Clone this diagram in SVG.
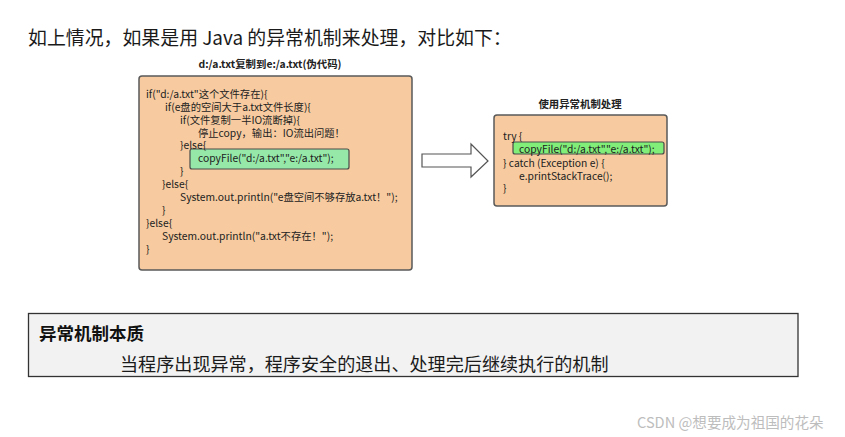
<svg xmlns="http://www.w3.org/2000/svg" width="845" height="437" viewBox="0 0 845 437">
<style>
text{font-family:"Noto Sans CJK SC","Liberation Sans",sans-serif;dominant-baseline:central}
.code{font-size:10.3px;fill:#222}
.cap{font-size:10.4px;font-weight:bold;fill:#222;text-anchor:middle}
.box{fill:#f7cb9f;stroke:#5a5a5a;stroke-width:1.5}
</style>
<rect width="845" height="437" fill="#fff"/>
<text x="28" y="36" style="font-size:18.9px;fill:#1a1a1a">如上情况，如果是用 Java 的异常机制来处理，对比如下：</text>

<g id="left">
<text class="cap" x="270" y="63">d:/a.txt复制到e:/a.txt(伪代码)</text>
<rect class="box" x="139" y="76" width="273" height="194" rx="3"/>
<rect x="190" y="149" width="159" height="20" rx="2" fill="#95e8a8" stroke="#4a4a4a" stroke-width="1.2"/>
<text class="code" x="146" y="93.3">if("d:/a.txt"这个文件存在){</text>
<text class="code" x="165" y="106.2">if(e盘的空间大于a.txt文件长度){</text>
<text class="code" x="180" y="119.1">if(文件复制一半IO流断掉){</text>
<text class="code" x="198" y="132">停止copy，输出：IO流出问题！</text>
<text class="code" x="180" y="144.9">}else{</text>
<text class="code" x="198" y="157.8">copyFile("d:/a.txt","e:/a.txt");</text>
<text class="code" x="180" y="170.7">}</text>
<text class="code" x="162" y="183.6">}else{</text>
<text class="code" x="180" y="196.5">System.out.println("e盘空间不够存放a.txt！");</text>
<text class="code" x="162" y="209.4">}</text>
<text class="code" x="146" y="222.3">}else{</text>
<text class="code" x="162" y="235.2">System.out.println("a.txt不存在！");</text>
<text class="code" x="146" y="248.1">}</text>
</g>

<g id="connectors">
<polygon points="422,154 471,154 471,144 488,161 471,177 471,167 422,167" fill="#fff" stroke="#555" stroke-width="1.2"/>
</g>

<g id="right">
<text class="cap" x="580" y="103">使用异常机制处理</text>
<rect class="box" x="494" y="115" width="173" height="91" rx="3"/>
<rect x="513" y="142" width="151" height="12" rx="2" fill="#80ee78" stroke="#4a4a4a" stroke-width="1.2"/>
<text class="code" x="503" y="135">try {</text>
<text class="code" x="519" y="148">copyFile("d:/a.txt","e:/a.txt");</text>
<text class="code" x="503" y="162">} catch (Exception e) {</text>
<text class="code" x="519" y="175">e.printStackTrace();</text>
<text class="code" x="503" y="187">}</text>
</g>

<g id="essence">
<rect x="28.5" y="313.5" width="769.5" height="63" fill="#f2f2f2" stroke="#333" stroke-width="1.3"/>
<text x="39" y="332" style="font-size:17.5px;font-weight:bold;fill:#111">异常机制本质</text>
<text x="120" y="363" style="font-size:18.1px;fill:#1a1a1a">当程序出现异常，程序安全的退出、处理完后继续执行的机制</text>
</g>

<text x="637" y="421" style="font-size:14.6px;fill:#bdbdbd">CSDN @想要成为祖国的花朵</text>
</svg>
